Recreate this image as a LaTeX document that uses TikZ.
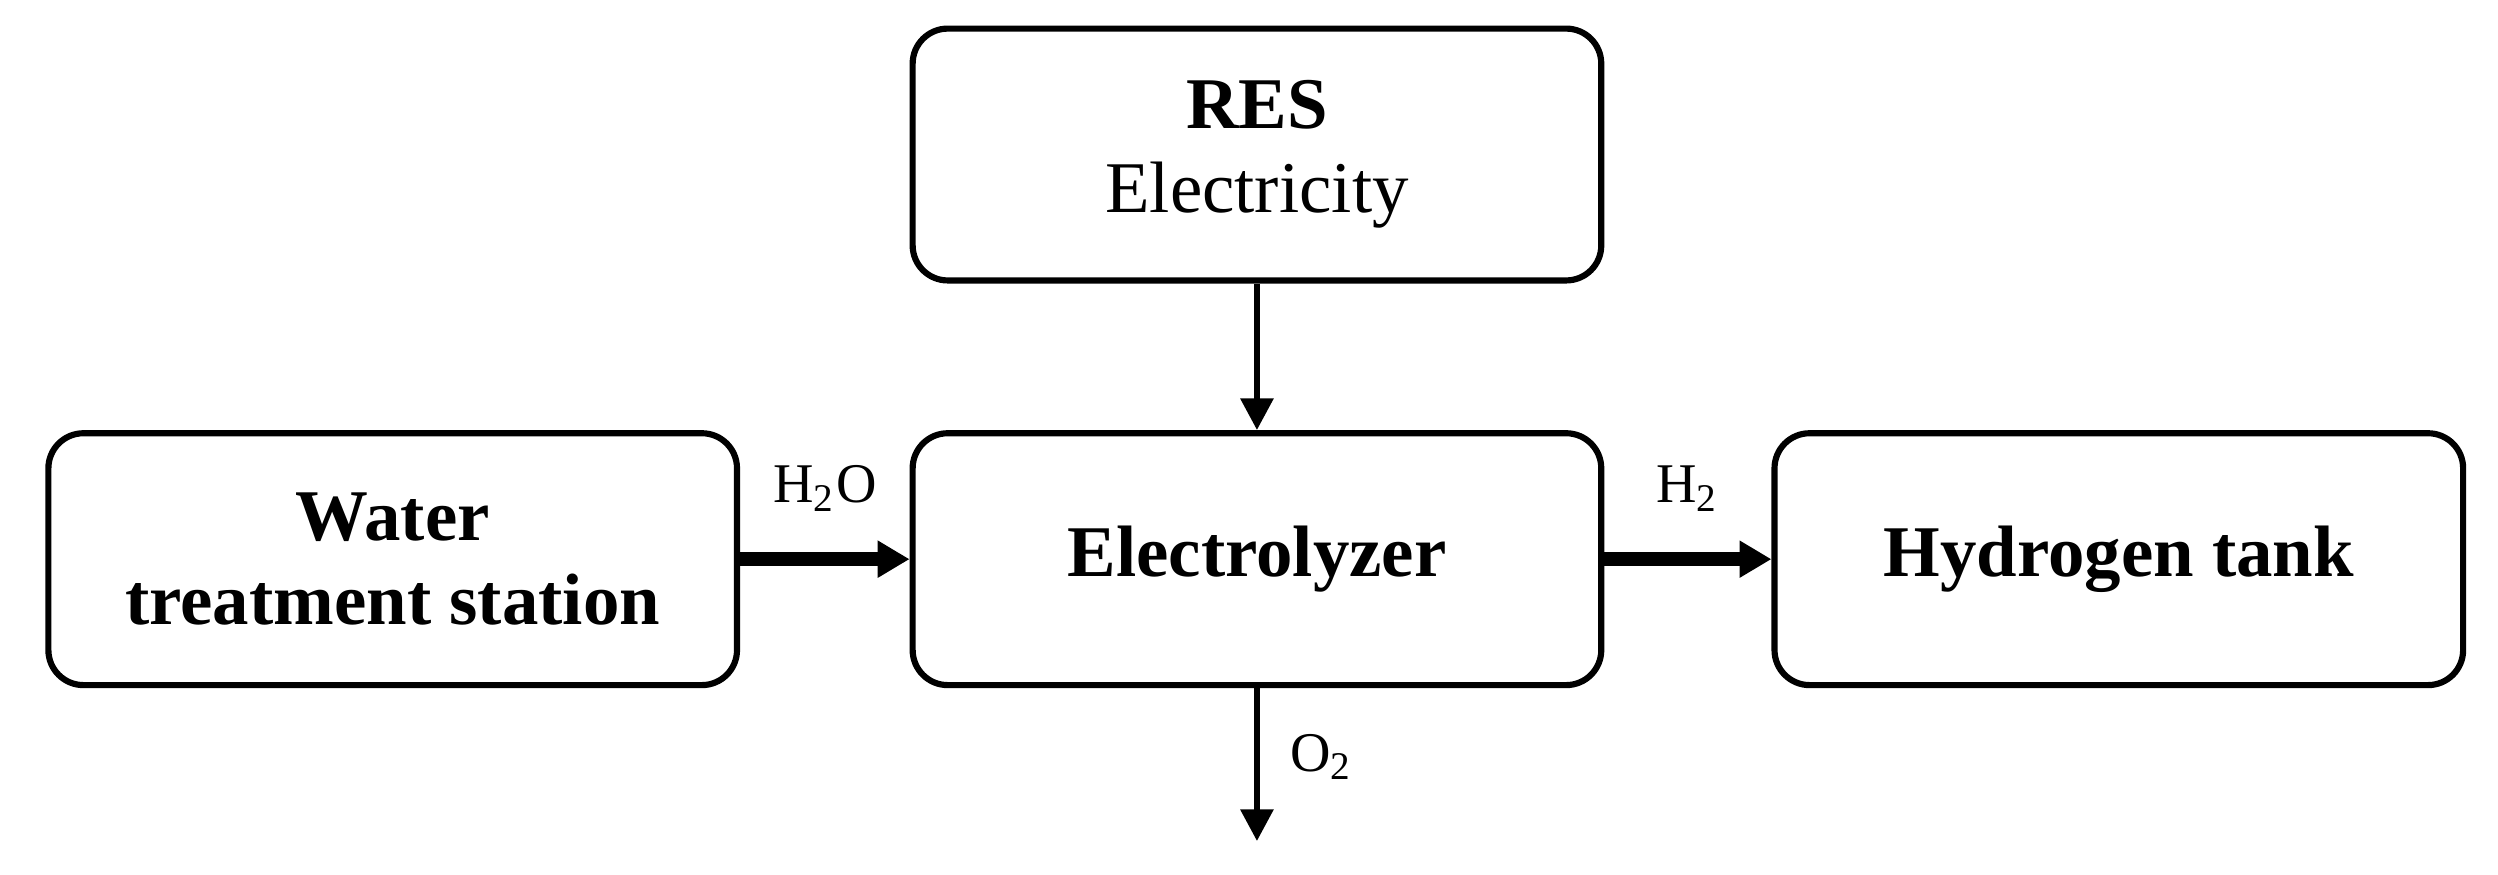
\documentclass[tikz,border=0pt]{standalone}
\usepackage{fontspec}
\setmainfont{Liberation Serif}
\usetikzlibrary{arrows.meta}
\begin{document}
\begin{tikzpicture}[x=0.01cm,y=-0.01cm,
  box/.style={draw, line width=1.1pt, rounded corners=0.22cm, minimum width=4.32cm, minimum height=1.58cm, align=center, font=\fontsize{13}{15}\selectfont},
  flow/.style={-{Triangle[length=0.2cm,width=0.2cm]}, line width=1.2pt},
  thick flow/.style={-{Triangle[length=0.2cm,width=0.22cm]}, line width=2.4pt},
  lbl/.style={font=\fontsize{10}{12}\selectfont}]
\useasboundingbox (0,0) rectangle (1568,549);
\node[box] (res) at (789,97) {\textbf{RES}\\Electricity};
\node[box] (ely) at (789,351) {\textbf{Electrolyzer}};
\node[box] (wts) at (246.5,351) {\textbf{Water}\\\textbf{treatment station}};
\node[box] (ht) at (1330,351) {\textbf{Hydrogen tank}};
\coordinate (out) at (789,528);
\draw[flow] (res) -- (ely);
\draw[thick flow] (wts) -- node[lbl, above=4pt] {H\textsubscript{2}O} (ely);
\draw[thick flow] (ely) -- node[lbl, above=4pt] {H\textsubscript{2}} (ht);
\draw[flow] (ely) -- node[lbl, right=2pt, pos=0.45] {O\textsubscript{2}} (out);
\end{tikzpicture}
\end{document}
